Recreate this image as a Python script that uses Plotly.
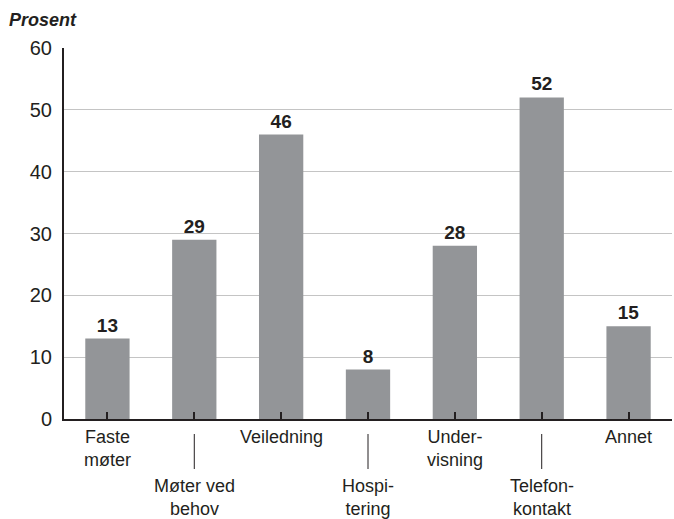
import plotly.graph_objects as go

# Andel (prosent) per samarbeidsform
categories = ["Faste<br>møter", "Møter ved<br>behov", "Veiledning", "Hospi-<br>tering",
              "Under-<br>visning", "Telefon-<br>kontakt", "Annet"]
values = [13, 29, 46, 8, 28, 52, 15]
y_ticks = [0, 10, 20, 30, 40, 50, 60]

FONT = "Liberation Sans, Arial, Helvetica, sans-serif"
BAR_COLOR = "#939598"

x_pos = list(range(len(categories)))

fig = go.Figure(go.Bar(
    x=x_pos,
    y=values,
    marker=dict(color=BAR_COLOR, line=dict(width=0)),
    text=[str(v) for v in values],
    textposition="outside",
    textfont=dict(family=FONT, size=19, color="#231f20", weight="bold"),
    cliponaxis=False,
))

# Category labels on two alternating levels below the axis
for i, label in enumerate(categories):
    lower = i % 2 == 1
    fig.add_annotation(
        x=i, y=0, xref="x", yref="paper",
        text=label, showarrow=False,
        yanchor="top", xanchor="center",
        yshift=-55 if lower else -6,
        font=dict(family=FONT, size=18, color="#231f20"),
    )
    if lower:
        fig.add_shape(
            type="line", xref="x", yref="paper",
            x0=i, x1=i, y0=-15 / 371, y1=-50 / 371,
            line=dict(color="#231f20", width=1),
        )

fig.add_annotation(
    x=0, y=1, xref="paper", yref="paper",
    xanchor="left", yanchor="top",
    text="<b><i>Prosent</i></b>", showarrow=False,
    xshift=-57, yshift=40,
    font=dict(family=FONT, size=18, color="#231f20"),
)

fig.update_layout(
    width=674, height=519,
    margin=dict(l=64, r=2, t=48, b=100),
    paper_bgcolor="white", plot_bgcolor="white",
    bargap=0.49,
    showlegend=False,
    font=dict(family=FONT, color="#231f20"),
    xaxis=dict(
        range=[-0.5, 6.5],
        tickmode="array", tickvals=x_pos, ticktext=[""] * len(x_pos),
        tickson="boundaries", ticks="inside", ticklen=7, tickwidth=2, tickcolor="#231f20",
        showline=True, linecolor="#231f20", linewidth=2,
        showgrid=False, zeroline=False, fixedrange=True,
    ),
    yaxis=dict(
        range=[0, 60],
        tickmode="array", tickvals=y_ticks,
        ticks="", ticklabelstandoff=6,
        tickfont=dict(family=FONT, size=20, color="#231f20"),
        showline=True, linecolor="#231f20", linewidth=2,
        showgrid=True, gridcolor="#c4c4c4", gridwidth=1,
        zeroline=False, fixedrange=True,
    ),
)

fig.write_html("out.html")
